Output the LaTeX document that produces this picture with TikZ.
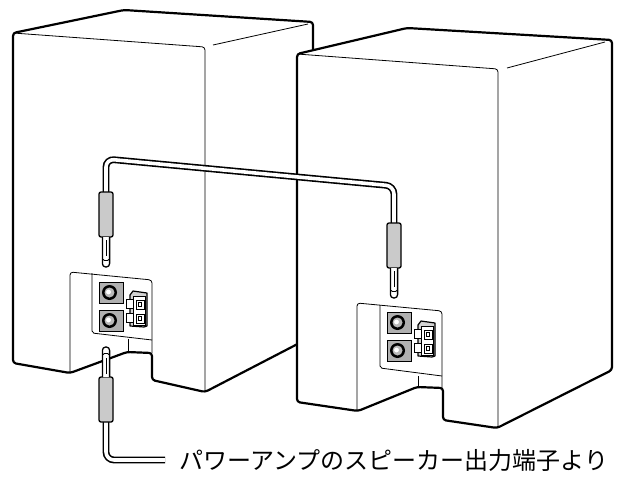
\documentclass[tikz,border=0pt]{standalone}
\usepackage{fontspec}
\newfontfamily\jpfont{Noto Sans CJK JP}
\definecolor{sleevegray}{HTML}{CACACA}
\definecolor{termgray}{HTML}{B0B0B0}
\begin{document}
\begin{tikzpicture}[x=1pt,y=-1pt,
  outline/.style={line width=2.2pt, line join=round, fill=white, rounded corners=3},
  edge/.style={line width=0.8pt},
  tube/.style={line width=1.6pt, double=white, double distance=3.6pt, rounded corners=8},
  plugpart/.style={line width=1.3pt, line join=round},
  label/.style={anchor=west, inner sep=0pt, font=\jpfont\fontsize{24}{24}\selectfont}]

\tikzset{
  % phone plug: origin at the cable end of the sleeve, pin pointing along +y
  plug/.pic={
    \draw[plugpart, fill=sleevegray, rounded corners=2] (-7,0) rectangle (7,45);
    \draw[plugpart, fill=white, rounded corners=3.3] (-3.6,45) -- (-3.6,75) -- (3.6,75) -- (3.6,45);
    \draw[line width=0.9pt] (-3.6,67) -- (-1.5,68.5) -- (1.5,68.5) -- (3.6,67);
    \draw[line width=0.6pt] (0,48) -- (0,64);
  },
  % binding posts and spring clip on the rear plate
  terminals/.pic={
    \foreach \yy in {0,28} {
      \draw[line width=1pt, fill=termgray] (0,\yy) rectangle (24,\yy+21);
      \fill (10.5,\yy+10.5) circle (7.5);
      \fill[gray!55] (10.5,\yy+10.5) circle (5);
      \fill[white] (9.5,\yy+10) circle (2.4);
    }
    % spring clip: slanted top face, body and two push tabs
    \draw[line width=1.2pt, fill=gray!35, line join=round] (31,13) -- (34,9) -- (48,11) -- (48,44) -- (45,45) -- (31,44) -- cycle;
    \draw[line width=0.9pt, fill=white] (34,14) rectangle (46,43);
    \foreach \yy in {17,31} {
      \draw[line width=1pt, fill=white] (27,\yy) rectangle (34,\yy+9);
      \draw[line width=0.9pt] (37,\yy+1) rectangle (45,\yy+10);
      \draw[line width=0.6pt] (39.5,\yy+3.5) rectangle (42.5,\yy+7.5);
    }
  }
}

\useasboundingbox (0,0) rectangle (624,479);

% left cabinet
\draw[outline] (13,33) -- (124,10) -- (313,22) -- (313,336) -- (205,392)
  -- (152,380) -- (152,353) -- (127,352) -- (70,373) -- (13,363) -- cycle;
\draw[edge, rounded corners=3] (13,33) -- (205,47) -- (205,392);
\draw[edge] (213,45) -- (308,24);
\draw[edge, rounded corners=3] (70,373) -- (70,272) -- (152,280) -- (152,353);
\draw[edge, rounded corners=2] (92,273) -- (92,333) -- (152,340);
\draw[edge] (128,339) -- (128,352);
\pic at (99,282) {terminals};

% right cabinet
\draw[outline] (297,54) -- (407,28) -- (612,40) -- (612,370) -- (497,428)
  -- (443,420) -- (443,388) -- (417,387) -- (358,411) -- (297,402) -- cycle;
\draw[edge, rounded corners=3] (297,54) -- (498,69) -- (498,428);
\draw[edge] (507,68) -- (605,42);
\draw[edge, rounded corners=3] (357,411) -- (357,303) -- (442,311) -- (442,388);
\draw[edge, rounded corners=2] (380,305) -- (380,368) -- (442,376);
\draw[edge] (418,376) -- (418,387);
\pic at (387,312) {terminals};

% jumper cable between the two cabinets
\coordinate (jl) at (106,192);
\coordinate (jr) at (394,223);
\draw[tube] (jl) -- (106,159) -- (394,186) -- (jr);
\pic at (jl) {plug};
\pic at (jr) {plug};

% cable from the amplifier
\node[label] (amp) at (179,460) {パワーアンプのスピーカー出力端子より};
\coordinate (bp) at (106,422);
\draw[tube] (bp) |- ([xshift=-14pt]amp.west);
\pic[yscale=-1] at (bp) {plug};
\end{tikzpicture}
\end{document}
